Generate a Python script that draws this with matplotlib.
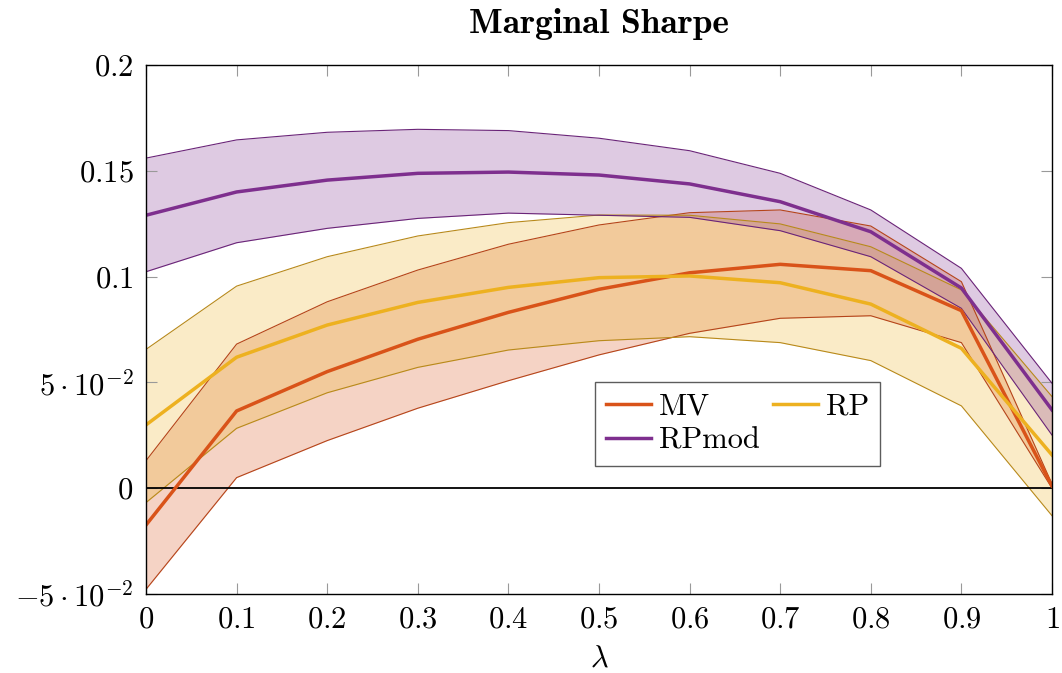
import numpy as np
import matplotlib
matplotlib.use("Agg")
import matplotlib.pyplot as plt

plt.rcParams["font.family"] = "serif"
plt.rcParams["font.serif"] = ["cmr10"]
plt.rcParams["mathtext.fontset"] = "cm"
plt.rcParams["axes.unicode_minus"] = False

# lambda grid
lam = [0, 0.1, 0.2, 0.3, 0.4, 0.5, 0.6, 0.7, 0.8, 0.9, 1.0]

# MV: mean and band
mv_mean = [-0.0174, 0.0365, 0.0551, 0.0704, 0.0831, 0.0940, 0.1018, 0.1058, 0.1028, 0.0839, 0.0010]
mv_upper = [0.0130, 0.0681, 0.0881, 0.1031, 0.1153, 0.1244, 0.1302, 0.1315, 0.1239, 0.0976, 0.0020]
mv_lower = [-0.0478, 0.0050, 0.0225, 0.0378, 0.0508, 0.0630, 0.0732, 0.0803, 0.0815, 0.0688, 0.0000]

# RP: mean and band
rp_mean = [0.0299, 0.0619, 0.0771, 0.0878, 0.0949, 0.0995, 0.1003, 0.0971, 0.0870, 0.0661, 0.0157]
rp_upper = [0.0656, 0.0955, 0.1094, 0.1192, 0.1255, 0.1291, 0.1290, 0.1249, 0.1141, 0.0937, 0.0433]
rp_lower = [-0.0068, 0.0283, 0.0451, 0.0571, 0.0653, 0.0697, 0.0716, 0.0688, 0.0603, 0.0389, -0.0130]

# RPmod: mean and band
rpm_mean = [0.1290, 0.1400, 0.1456, 0.1488, 0.1494, 0.1480, 0.1438, 0.1354, 0.1212, 0.0946, 0.0370]
rpm_upper = [0.1560, 0.1646, 0.1682, 0.1696, 0.1690, 0.1654, 0.1595, 0.1488, 0.1315, 0.1039, 0.0496]
rpm_lower = [0.1023, 0.1160, 0.1228, 0.1275, 0.1300, 0.1290, 0.1280, 0.1217, 0.1094, 0.0850, 0.0251]

xticks = [0, 0.1, 0.2, 0.3, 0.4, 0.5, 0.6, 0.7, 0.8, 0.9, 1]
xtick_labels = ["0", "0.1", "0.2", "0.3", "0.4", "0.5", "0.6", "0.7", "0.8", "0.9", "1"]
yticks = [-0.05, 0, 0.05, 0.1, 0.15, 0.2]
ytick_labels = [r"-5\cdot10^{-2}", "0", r"5\cdot10^{-2}", "0.1", "0.15", "0.2"]

mvColor = "#D95319"
rpColor = "#EDB120"
rpmColor = "#7E2F8E"
mvEdge = "#B5441A"
rpEdge = "#B8891A"
rpmEdge = "#6A2478"

fig = plt.figure(figsize=(10.62, 6.73), dpi=100)
ax = fig.add_axes([146 / 1062, 1 - 594 / 673, 906 / 1062, 529 / 673])

# bands
ax.fill_between(lam, mv_lower, mv_upper, color=mvColor, alpha=0.25, lw=0)
ax.plot(lam, mv_upper, color=mvEdge, lw=0.8)
ax.plot(lam, mv_lower, color=mvEdge, lw=0.8)

ax.fill_between(lam, rp_lower, rp_upper, color=rpColor, alpha=0.25, lw=0)
ax.plot(lam, rp_upper, color=rpEdge, lw=0.8)
ax.plot(lam, rp_lower, color=rpEdge, lw=0.8)

ax.fill_between(lam, rpm_lower, rpm_upper, color=rpmColor, alpha=0.25, lw=0)
ax.plot(lam, rpm_upper, color=rpmEdge, lw=0.8)
ax.plot(lam, rpm_lower, color=rpmEdge, lw=0.8)

# zero line
ax.axhline(0, color="black", lw=1.3)

# means
l_mv, = ax.plot(lam, mv_mean, color=mvColor, lw=2.5, label="MV")
l_rp, = ax.plot(lam, rp_mean, color=rpColor, lw=2.5, label="RP")
l_rpm, = ax.plot(lam, rpm_mean, color=rpmColor, lw=2.5, label="RPmod")

ax.set_xlim(0, 1)
ax.set_ylim(-0.05, 0.2)
ax.set_xticks(xticks)
ax.set_xticklabels(["$" + t + "$" for t in xtick_labels])
ax.set_yticks(yticks)
ax.set_yticklabels(["$" + t + "$" for t in ytick_labels])
ax.tick_params(direction="in", length=8, width=0.8, color="#999999",
               top=True, right=True, labelsize=22, pad=9)
for s in ax.spines.values():
    s.set_linewidth(1.0)

ax.set_xlabel(r"$\lambda$", fontsize=22, labelpad=8)
ax.set_title("Marginal Sharpe", fontname="cmb10", fontsize=25.5, pad=23)

# row-major order: MV, RP / RPmod
leg = ax.legend([l_mv, l_rpm, l_rp], ["MV", "RPmod", "RP"], ncol=2,
                loc="upper left", bbox_to_anchor=(0.4956, 0.4008), fontsize=22,
                frameon=True, fancybox=False, edgecolor="#333333",
                handlelength=1.46, handletextpad=0.26, columnspacing=0.45,
                borderpad=0.36, labelspacing=0.22, borderaxespad=0)
leg.get_frame().set_linewidth(1.0)

fig.savefig("out.png", dpi=100)
